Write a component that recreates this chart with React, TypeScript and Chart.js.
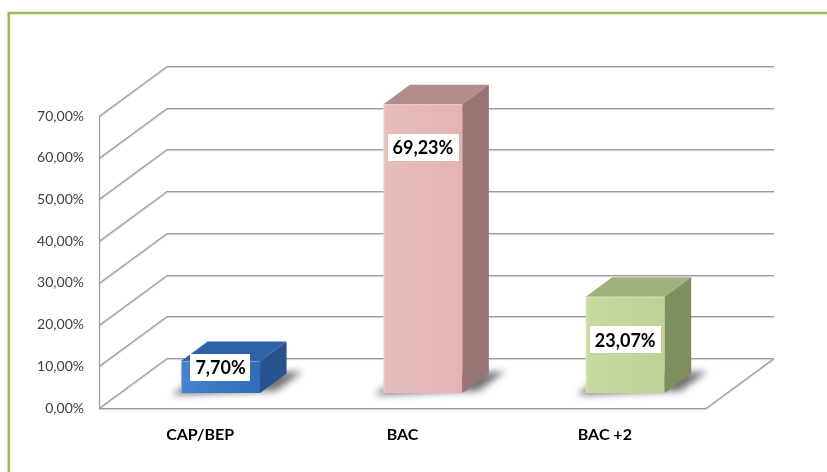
import { useEffect, useRef } from 'react';
import { Chart, registerables } from 'chart.js';

Chart.register(...registerables);

// ---- data ----
const categories = ['CAP/BEP', 'BAC', 'BAC +2'];
const values = [7.7, 69.23, 23.07];
const yTickValues = [0, 10, 20, 30, 40, 50, 60, 70];
const yMin = 0;
const yMax = 70;
const yStep = 10;

// ---- styles ----
const frontColors = [
  ['#4583d0', '#336cb6'],
  ['#e8bdbc', '#e2b3b2'],
  ['#c8daa2', '#bed195'],
];
const topColors = ['#2e63a8', '#b28c8a', '#9fb27b'];
const sideColors = ['#27538e', '#967574', '#7f8e5e'];

const fmtPct = (v: number) => v.toFixed(2).replace('.', ',') + '%';

// depth vector of the 3D box (floor front edge -> back wall)
const DX = 68;
const DY = -50;
const BAR_FRONT = 0.3; // fraction of depth where bar front face sits
const BAR_DEPTH = 0.39; // bar depth as fraction of total depth

const threeD = {
  id: 'threeD',
  beforeDraw(chart: any) {
    const ctx = chart.ctx;
    ctx.save();
    ctx.fillStyle = '#ffffff';
    ctx.fillRect(0, 0, chart.width, chart.height);
    ctx.strokeStyle = '#9bbb59';
    ctx.lineWidth = 2.6;
    ctx.beginPath();
    ctx.moveTo(8.8, chart.height + 5);
    ctx.lineTo(8.8, 13);
    ctx.lineTo(chart.width + 5, 13);
    ctx.stroke();
    ctx.restore();
  },
  beforeDatasetsDraw(chart: any) {
    const ctx = chart.ctx;
    const ys = chart.scales.y;
    const { left, right } = chart.chartArea;
    const y0 = ys.getPixelForValue(yMin);
    const yTop = ys.getPixelForValue(yMax);
    ctx.save();
    ctx.strokeStyle = '#9c9c9c';
    ctx.lineWidth = 1.1;
    ctx.shadowColor = 'rgba(0,0,0,0.22)';
    ctx.shadowOffsetY = 1;
    ctx.shadowBlur = 1;
    ctx.beginPath();
    for (const v of yTickValues) {
      const yf = Math.round(ys.getPixelForValue(v)) + 0.5;
      ctx.moveTo(left, yf);
      ctx.lineTo(left + DX, yf + DY);
      ctx.lineTo(right + DX, yf + DY);
    }
    // floor
    const yb = Math.round(y0) + 0.5;
    ctx.moveTo(left, yb);
    ctx.lineTo(right, yb);
    ctx.lineTo(right + DX, yb + DY);
    // front vertical axis
    ctx.moveTo(left + 0.5, Math.round(yTop) + 0.5);
    ctx.lineTo(left + 0.5, yb);
    ctx.stroke();
    ctx.restore();
  },
  afterDatasetsDraw(chart: any) {
    const ctx = chart.ctx;
    const meta = chart.getDatasetMeta(0);
    const ox = DX * BAR_FRONT;
    const oy = DY * BAR_FRONT;
    const dx = DX * BAR_DEPTH;
    const dy = DY * BAR_DEPTH;
    meta.data.forEach((bar: any, i: number) => {
      const { x, y, base, width } = bar.getProps(['x', 'y', 'base', 'width'], true);
      const l = x - width / 2 + ox;
      const r = x + width / 2 + ox;
      const t = y + oy;
      const b = base + oy;
      // floor shadow (drawn off-screen, only the shadow lands on the canvas)
      ctx.save();
      const OFF = 5000;
      ctx.shadowColor = 'rgba(0,0,0,0.55)';
      ctx.shadowBlur = 7;
      ctx.shadowOffsetX = OFF;
      ctx.shadowOffsetY = 0;
      ctx.fillStyle = '#000';
      ctx.beginPath();
      ctx.moveTo(l - 9 - OFF, b + 2);
      ctx.lineTo(l - 9 + dx - OFF, b + 2 + dy);
      ctx.lineTo(r + dx + 16 - OFF, b + dy - 2);
      ctx.lineTo(r + 16 - OFF, b - 2);
      ctx.closePath();
      ctx.fill();
      ctx.restore();

      // front face
      const g = ctx.createLinearGradient(l, 0, r, 0);
      g.addColorStop(0, frontColors[i][0]);
      g.addColorStop(1, frontColors[i][1]);
      ctx.fillStyle = g;
      ctx.fillRect(l, t, r - l, b - t);
      // top face
      ctx.fillStyle = topColors[i];
      ctx.beginPath();
      ctx.moveTo(l, t);
      ctx.lineTo(l + dx, t + dy);
      ctx.lineTo(r + dx, t + dy);
      ctx.lineTo(r, t);
      ctx.closePath();
      ctx.fill();
      // side face
      ctx.fillStyle = sideColors[i];
      ctx.beginPath();
      ctx.moveTo(r, t);
      ctx.lineTo(r + dx, t + dy);
      ctx.lineTo(r + dx, b + dy);
      ctx.lineTo(r, b);
      ctx.closePath();
      ctx.fill();
      // subtle edge highlight
      ctx.strokeStyle = 'rgba(255,255,255,0.35)';
      ctx.lineWidth = 1;
      ctx.beginPath();
      ctx.moveTo(l + 0.5, b);
      ctx.lineTo(l + 0.5, t + 0.5);
      ctx.lineTo(r - 0.5, t + 0.5);
      ctx.stroke();

      // data label
      const text = fmtPct(values[i]);
      ctx.font = 'bold 18px Lato';
      const tw = ctx.measureText(text).width;
      const cx = (l + r) / 2;
      const cy = Math.min(t + 43, b - 26);
      const bw = tw + 10;
      const bh = 27;
      ctx.fillStyle = '#ffffff';
      ctx.fillRect(Math.round(cx - bw / 2), Math.round(cy - bh / 2), Math.round(bw), bh);
      ctx.fillStyle = '#000000';
      ctx.textAlign = 'center';
      ctx.textBaseline = 'middle';
      ctx.fillText(text, cx, cy + 1);
    });
  },
};

export default function App() {
  const ref = useRef<HTMLCanvasElement | null>(null);
  useEffect(() => {
    if (!ref.current) return;
    const chart = new Chart(ref.current, {
      type: 'bar',
      data: {
        labels: categories,
        datasets: [
          {
            data: values,
            backgroundColor: 'rgba(0,0,0,0)',
            borderWidth: 0,
            barPercentage: 0.39,
            categoryPercentage: 1,
          },
        ],
      },
      options: {
        responsive: false,
        animation: false,
        devicePixelRatio: 1,
        layout: { padding: { top: 116, right: 121, left: 0, bottom: 0 } },
        plugins: { legend: { display: false }, tooltip: { enabled: false } },
        scales: {
          x: {
            grid: { display: false, drawTicks: false },
            border: { display: false },
            ticks: {
              color: '#000000',
              font: { family: 'Lato', size: 16, weight: 'bold' },
              padding: 17,
            },
            afterFit: (s: any) => {
              s.height = 64;
            },
          },
          y: {
            min: yMin,
            max: yMax,
            grid: { display: false, drawTicks: false },
            border: { display: false },
            ticks: {
              stepSize: yStep,
              color: '#404040',
              font: { family: 'Lato', size: 14 },
              padding: 15,
              callback: (v: any) => fmtPct(Number(v)),
            },
            afterFit: (s: any) => {
              s.width = 99;
            },
          },
        },
      } as any,
      plugins: [threeD],
    });
    return () => chart.destroy();
  }, []);
  return (
    <div
      style={{
        position: 'fixed',
        left: 0,
        top: 0,
        width: 827,
        height: 472,
        overflow: 'hidden',
        background: '#fff',
      }}
    >
      <canvas ref={ref} width={827} height={472} style={{ display: 'block', width: 827, height: 472 }} />
    </div>
  );
}
